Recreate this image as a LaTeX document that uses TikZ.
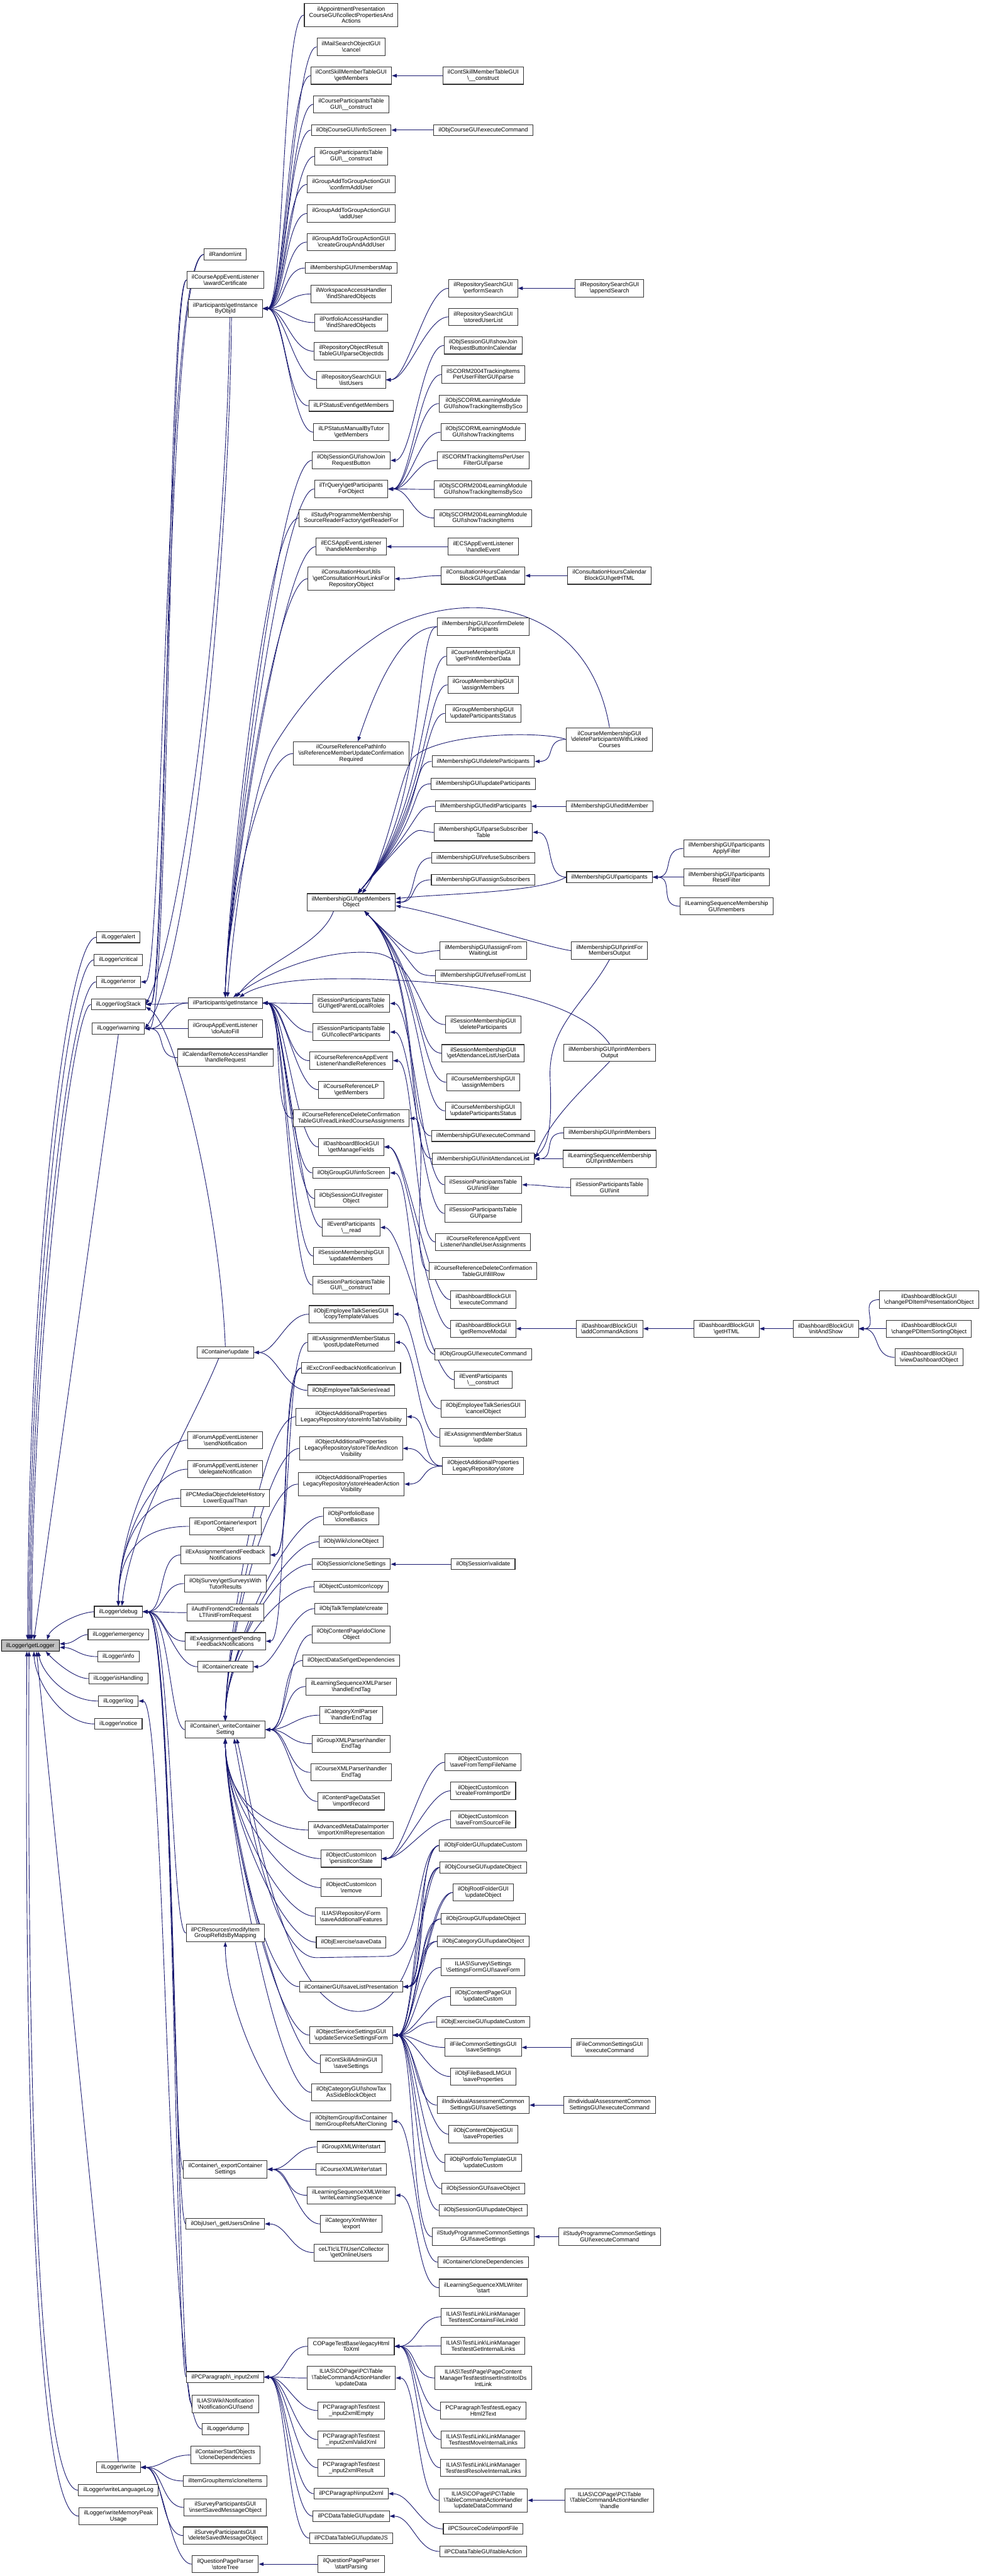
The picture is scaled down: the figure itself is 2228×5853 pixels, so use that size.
\documentclass[tikz,border=0pt]{standalone}
\usepackage{fontspec}
\newfontfamily\dxf{Liberation Sans}
\usetikzlibrary{arrows.meta}
\pgfdeclarelayer{bg}
\pgfsetlayers{bg,main}
\definecolor{navy}{HTML}{191970}
\newcommand\bsl{\textbackslash}
\newcommand\mknode[5]{\node[box,minimum height={#4*14+11}] (#1) at (#2,#3) {#5};}
\newcommand\ed[2]{\foreach \tgt in {#2}{\draw[arr] (#1.west) .. controls +(-50,0) and +(50,0) .. (\tgt.east);}}
\newcommand\edn[2]{\draw[arr] (#1.west) .. controls +(-80,0) and +(0,-150) .. (#2.north);}
\newcommand\eds[2]{\draw[arr] (#1.west) .. controls +(-80,0) and +(0,150) .. (#2.south);}
\newcommand\edv[3]{\draw[arr] (#1.west) .. controls (#3,0 |- #1.west) and (#3,0 |- #2.east) .. (#2.east);}
\newcommand\edg[1]{\draw[arr] (#1.west) .. controls +(-50,0) and (970,1850) .. ([xshift=15]gmo.north);}
\newcommand\edgs[1]{\draw[arr] (#1.west) .. controls +(-60,0) and (960,2200) .. ([xshift=30]gmo.south);}
\begin{document}
\begin{tikzpicture}[x=1pt,y=-1pt,
 box/.style={draw=black!80,line width=1.5pt,fill=white,align=center,inner xsep=11pt,inner ysep=0pt,
   font=\dxf\fontsize{13.2pt}{14pt}\selectfont},
 arr/.style={draw=navy,line width=1.3pt,-{Triangle[length=11pt,width=8pt]}}]
\begin{pgfonlayer}{bg}\fill[white] (0,0) rectangle (2228,5853);\end{pgfonlayer}
\useasboundingbox (0,0) rectangle (2228,5853);
% root
\node[box,fill=black!25,draw=black,minimum height=25] (root) at (69,3739) {ilLogger\bsl getLogger};
% column B
\mknode{lalert}{269}{2129.5}{1}{ilLogger\bsl alert}
\mknode{lcrit}{269}{2181}{1}{ilLogger\bsl critical}
\mknode{lerr}{269}{2231}{1}{ilLogger\bsl error}
\mknode{lstack}{269}{2282}{1}{ilLogger\bsl logStack}
\mknode{lwarn}{269}{2337}{1}{ilLogger\bsl warning}
\mknode{ldebug}{269}{3662}{1}{ilLogger\bsl debug}
\mknode{lemerg}{269}{3714}{1}{ilLogger\bsl emergency}
\mknode{linfo}{269}{3764}{1}{ilLogger\bsl info}
\mknode{lish}{269}{3814}{1}{ilLogger\bsl isHandling}
\mknode{llog}{269}{3865}{1}{ilLogger\bsl log}
\mknode{lnotice}{269}{3917}{1}{ilLogger\bsl notice}
\mknode{lwrite}{269}{5606}{1}{ilLogger\bsl write}
\mknode{lwll}{269}{5658}{1}{ilLogger\bsl writeLanguageLog}
\mknode{lwmp}{269}{5717}{2}{ilLogger\bsl writeMemoryPeak\\Usage}
% column C
\mknode{rint}{512}{578}{1}{ilRandom\bsl int}
\mknode{award}{512}{636}{2}{ilCourseAppEventListener\\\bsl awardCertificate}
\mknode{gibo}{512}{701}{2}{ilParticipants\bsl getInstance\\ByObjId}
\mknode{gi}{512}{2279}{1}{ilParticipants\bsl getInstance}
\mknode{autofill}{512}{2337}{2}{ilGroupAppEventListener\\\bsl doAutoFill}
\mknode{calreq}{512}{2403}{2}{ilCalendarRemoteAccessHandler\\\bsl handleRequest}
\mknode{cupd}{512}{3073}{1}{ilContainer\bsl update}
\mknode{fsend}{512}{3272}{2}{ilForumAppEventListener\\\bsl sendNotification}
\mknode{fdel}{512}{3338}{2}{ilForumAppEventListener\\\bsl delegateNotification}
\mknode{pcmo}{512}{3404}{2}{ilPCMediaObject\bsl deleteHistory\\LowerEqualThan}
\mknode{expc}{512}{3468}{2}{ilExportContainer\bsl export\\Object}
\mknode{sendfb}{512}{3533}{2}{ilExAssignment\bsl sendFeedback\\Notifications}
\mknode{survey}{512}{3598}{2}{ilObjSurvey\bsl getSurveysWith\\TutorResults}
\mknode{authlti}{512}{3664}{2}{ilAuthFrontendCredentials\\LTI\bsl initFromRequest}
\mknode{getpend}{512}{3729}{2}{ilExAssignment\bsl getPending\\FeedbackNotifications}
\mknode{ccreate}{512}{3787}{1}{ilContainer\bsl create}
\mknode{wcs}{512}{3930}{2}{ilContainer\bsl\_writeContainer\\Setting}
\mknode{pcres}{512}{4392}{2}{ilPCResources\bsl modifyItem\\GroupRefIdsByMapping}
\mknode{ecs}{512}{4929}{2}{ilContainer\bsl\_exportContainer\\Settings}
\mknode{guo}{512}{5053}{1}{ilObjUser\bsl\_getUsersOnline}
\mknode{inx}{512}{5401}{1}{ilPCParagraph\bsl\_input2xml}
\mknode{wiki}{512}{5462}{2}{ILIAS\bsl Wiki\bsl Notification\\\bsl NotificationGUI\bsl send}
\mknode{ldump}{512}{5519}{1}{ilLogger\bsl dump}
\mknode{csoclone}{512}{5578}{2}{ilContainerStartObjects\\\bsl cloneDependencies}
\mknode{igiclone}{512}{5637}{1}{ilItemGroupItems\bsl cloneItems}
\mknode{spins}{512}{5697}{2}{ilSurveyParticipantsGUI\\\bsl insertSavedMessageObject}
\mknode{spdel}{512}{5761}{2}{ilSurveyParticipantsGUI\\\bsl deleteSavedMessageObject}
\mknode{qpst}{512}{5826}{2}{ilQuestionPageParser\\\bsl storeTree}
% column D
\mknode{appt}{798}{34}{3}{ilAppointmentPresentation\\CourseGUI\bsl collectPropertiesAnd\\Actions}
\mknode{mailc}{798}{106.5}{2}{ilMailSearchObjectGUI\\\bsl cancel}
\mknode{cstmgm}{798}{172}{2}{ilContSkillMemberTableGUI\\\bsl getMembers}
\mknode{cptc}{798}{237}{2}{ilCourseParticipantsTable\\GUI\bsl\_\_construct}
\mknode{ocinfo}{798}{295.5}{1}{ilObjCourseGUI\bsl infoScreen}
\mknode{gptc}{798}{355}{2}{ilGroupParticipantsTable\\GUI\bsl\_\_construct}
\mknode{gatga}{798}{419}{2}{ilGroupAddToGroupActionGUI\\\bsl confirmAddUser}
\mknode{gatgb}{798}{485}{2}{ilGroupAddToGroupActionGUI\\\bsl addUser}
\mknode{gatgc}{798}{550}{2}{ilGroupAddToGroupActionGUI\\\bsl createGroupAndAddUser}
\mknode{mmap}{798}{609}{1}{ilMembershipGUI\bsl membersMap}
\mknode{wsfind}{798}{668}{2}{ilWorkspaceAccessHandler\\\bsl findSharedObjects}
\mknode{pffind}{798}{733}{2}{ilPortfolioAccessHandler\\\bsl findSharedObjects}
\mknode{rorparse}{798}{798}{2}{ilRepositoryObjectResult\\TableGUI\bsl parseObjectIds}
\mknode{rslist}{798}{863}{2}{ilRepositorySearchGUI\\\bsl listUsers}
\mknode{lpsev}{798}{922}{1}{ilLPStatusEvent\bsl getMembers}
\mknode{lpsman}{798}{982}{2}{ilLPStatusManualByTutor\\\bsl getMembers}
\mknode{sjrb}{798}{1046}{2}{ilObjSessionGUI\bsl showJoin\\RequestButton}
\mknode{trq}{798}{1111}{2}{ilTrQuery\bsl getParticipants\\ForObject}
\mknode{spreader}{798}{1177}{2}{ilStudyProgrammeMembership\\SourceReaderFactory\bsl getReaderFor}
\mknode{ecshm}{798}{1242}{2}{ilECSAppEventListener\\\bsl handleMembership}
\mknode{chu}{798}{1315}{3}{ilConsultationHourUtils\\\bsl getConsultationHourLinksFor\\RepositoryObject}
\mknode{pathinfo}{798}{1712}{3}{ilCourseReferencePathInfo\\\bsl isReferenceMemberUpdateConfirmation\\Required}
\mknode{gmo}{798}{2050}{2}{ilMembershipGUI\bsl getMembers\\Object}
\mknode{gplr}{798}{2280}{2}{ilSessionParticipantsTable\\GUI\bsl getParentLocalRoles}
\mknode{gcp}{798}{2345}{2}{ilSessionParticipantsTable\\GUI\bsl collectParticipants}
\mknode{crhr}{798}{2410}{2}{ilCourseReferenceAppEvent\\Listener\bsl handleReferences}
\mknode{crlp}{798}{2476}{2}{ilCourseReferenceLP\\\bsl getMembers}
\mknode{crdel}{798}{2541}{2}{ilCourseReferenceDeleteConfirmation\\TableGUI\bsl readLinkedCourseAssignments}
\mknode{dbmf}{798}{2606}{2}{ilDashboardBlockGUI\\\bsl getManageFields}
\mknode{ogi}{798}{2665}{1}{ilObjGroupGUI\bsl infoScreen}
\mknode{osreg}{798}{2723}{2}{ilObjSessionGUI\bsl register\\Object}
\mknode{epread}{798}{2789}{2}{ilEventParticipants\\\bsl\_\_read}
\mknode{smum}{798}{2854}{2}{ilSessionMembershipGUI\\\bsl updateMembers}
\mknode{sptc}{798}{2920}{2}{ilSessionParticipantsTable\\GUI\bsl\_\_construct}
\mknode{ctv}{798}{2986}{2}{ilObjEmployeeTalkSeriesGUI\\\bsl copyTemplateValues}
\mknode{pur}{798}{3050}{2}{ilExAssignmentMemberStatus\\\bsl postUpdateReturned}
\mknode{cron}{798}{3108}{1}{ilExcCronFeedbackNotification\bsl run}
\mknode{etsread}{798}{3159}{1}{ilObjEmployeeTalkSeries\bsl read}
\mknode{sitv}{798}{3219}{2}{ilObjectAdditionalProperties\\LegacyRepository\bsl storeInfoTabVisibility}
\mknode{stiv}{798}{3291}{3}{ilObjectAdditionalProperties\\LegacyRepository\bsl storeTitleAndIcon\\Visibility}
\mknode{shav}{798}{3372}{3}{ilObjectAdditionalProperties\\LegacyRepository\bsl storeHeaderAction\\Visibility}
\mknode{pbclone}{798}{3445}{2}{ilObjPortfolioBase\\\bsl cloneBasics}
\mknode{wikiclone}{798}{3503}{1}{ilObjWiki\bsl cloneObject}
\mknode{sesclone}{798}{3554}{1}{ilObjSession\bsl cloneSettings}
\mknode{cicopy}{798}{3605}{1}{ilObjectCustomIcon\bsl copy}
\mknode{ttcreate}{798}{3655}{1}{ilObjTalkTemplate\bsl create}
\mknode{cpclone}{798}{3714}{2}{ilObjContentPage\bsl doClone\\Object}
\mknode{odsdep}{798}{3773}{1}{ilObjectDataSet\bsl getDependencies}
\mknode{lsxp}{798}{3832}{2}{ilLearningSequenceXMLParser\\\bsl handleEndTag}
\mknode{catxp}{798}{3897}{2}{ilCategoryXmlParser\\\bsl handlerEndTag}
\mknode{grpxp}{798}{3962}{2}{ilGroupXMLParser\bsl handler\\EndTag}
\mknode{crsxp}{798}{4027}{2}{ilCourseXMLParser\bsl handler\\EndTag}
\mknode{cpdsimp}{798}{4093}{2}{ilContentPageDataSet\\\bsl importRecord}
\mknode{amdimp}{798}{4158}{2}{ilAdvancedMetaDataImporter\\\bsl importXmlRepresentation}
\mknode{cipersist}{798}{4223}{2}{ilObjectCustomIcon\\\bsl persistIconState}
\mknode{ciremove}{798}{4289}{2}{ilObjectCustomIcon\\\bsl remove}
\mknode{rsaf}{798}{4354}{2}{ILIAS\bsl Repository\bsl Form\\\bsl saveAdditionalFeatures}
\mknode{exsave}{798}{4413}{1}{ilObjExercise\bsl saveData}
\mknode{slp}{798}{4514}{1}{ilContainerGUI\bsl saveListPresentation}
\mknode{ussf}{798}{4624}{2}{ilObjectServiceSettingsGUI\\\bsl updateServiceSettingsForm}
\mknode{csasave}{798}{4689}{2}{ilContSkillAdminGUI\\\bsl saveSettings}
\mknode{ctaxside}{798}{4754}{2}{ilObjCategoryGUI\bsl showTax\\AsSideBlockObject}
\mknode{fixc}{798}{4820}{2}{ilObjItemGroup\bsl fixContainer\\ItemGroupRefsAfterCloning}
\mknode{gxw}{798}{4878}{1}{ilGroupXMLWriter\bsl start}
\mknode{cxw}{798}{4929}{1}{ilCourseXMLWriter\bsl start}
\mknode{lsxw}{798}{4988}{2}{ilLearningSequenceXMLWriter\\\bsl writeLearningSequence}
\mknode{catxw}{798}{5053}{2}{ilCategoryXmlWriter\\\bsl export}
\mknode{lti}{798}{5118}{2}{ceLTIc\bsl LTI\bsl User\bsl Collector\\\bsl getOnlineUsers}
\mknode{copt}{798}{5331}{2}{COPageTestBase\bsl legacyHtml\\ToXml}
\mknode{tcud}{798}{5403}{3}{ILIAS\bsl COPage\bsl PC\bsl Table\\\bsl TableCommandActionHandler\\\bsl updateData}
\mknode{pcte}{798}{5477}{2}{PCParagraphTest\bsl test\\\_input2xmlEmpty}
\mknode{pctv}{798}{5543}{2}{PCParagraphTest\bsl test\\\_input2xmlValidXml}
\mknode{pctr}{798}{5607}{2}{PCParagraphTest\bsl test\\\_input2xmlResult}
\mknode{pcin}{798}{5666}{1}{ilPCParagraph\bsl input2xml}
\mknode{dtu}{798}{5717}{1}{ilPCDataTableGUI\bsl update}
\mknode{dtujs}{798}{5767}{1}{ilPCDataTableGUI\bsl updateJS}
\mknode{qpsp}{798}{5826}{2}{ilQuestionPageParser\\\bsl startParsing}
% column E
\mknode{csmc}{1098}{172}{2}{ilContSkillMemberTableGUI\\\bsl\_\_construct}
\mknode{ocexec}{1098}{295.5}{1}{ilObjCourseGUI\bsl executeCommand}
\mknode{rsperf}{1098}{655}{2}{ilRepositorySearchGUI\\\bsl performSearch}
\mknode{rsstored}{1098}{720}{2}{ilRepositorySearchGUI\\\bsl storedUserList}
\mknode{sjric}{1098}{785}{2}{ilObjSessionGUI\bsl showJoin\\RequestButtonInCalendar}
\mknode{sca}{1098}{851}{2}{ilSCORM2004TrackingItems\\PerUserFilterGUI\bsl parse}
\mknode{scb}{1098}{917}{2}{ilObjSCORMLearningModule\\GUI\bsl showTrackingItemsBySco}
\mknode{scc}{1098}{982}{2}{ilObjSCORMLearningModule\\GUI\bsl showTrackingItems}
\mknode{scd}{1098}{1046}{2}{ilSCORMTrackingItemsPerUser\\FilterGUI\bsl parse}
\mknode{sce}{1098}{1112}{2}{ilObjSCORM2004LearningModule\\GUI\bsl showTrackingItemsBySco}
\mknode{scf}{1098}{1177}{2}{ilObjSCORM2004LearningModule\\GUI\bsl showTrackingItems}
\mknode{ecshe}{1098}{1242}{2}{ilECSAppEventListener\\\bsl handleEvent}
\mknode{chgd}{1098}{1308}{2}{ilConsultationHoursCalendar\\BlockGUI\bsl getData}
\mknode{mcdp}{1098}{1424}{2}{ilMembershipGUI\bsl confirmDelete\\Participants}
\mknode{cmgpmd}{1098}{1491}{2}{ilCourseMembershipGUI\\\bsl getPrintMemberData}
\mknode{gmam}{1098}{1556}{2}{ilGroupMembershipGUI\\\bsl assignMembers}
\mknode{gmups}{1098}{1621}{2}{ilGroupMembershipGUI\\\bsl updateParticipantsStatus}
\mknode{mdp}{1098}{1730}{1}{ilMembershipGUI\bsl deleteParticipants}
\mknode{mup}{1098}{1781}{1}{ilMembershipGUI\bsl updateParticipants}
\mknode{mep}{1098}{1832}{1}{ilMembershipGUI\bsl editParticipants}
\mknode{mpst}{1098}{1891}{2}{ilMembershipGUI\bsl parseSubscriber\\Table}
\mknode{mrs}{1098}{1949}{1}{ilMembershipGUI\bsl refuseSubscribers}
\mknode{mas}{1098}{1999}{1}{ilMembershipGUI\bsl assignSubscribers}
\mknode{mafwl}{1098}{2160}{2}{ilMembershipGUI\bsl assignFrom\\WaitingList}
\mknode{mrfl}{1098}{2217}{1}{ilMembershipGUI\bsl refuseFromList}
\mknode{smdp}{1098}{2328}{2}{ilSessionMembershipGUI\\\bsl deleteParticipants}
\mknode{smgal}{1098}{2393}{2}{ilSessionMembershipGUI\\\bsl getAttendanceListUserData}
\mknode{cmam}{1098}{2459}{2}{ilCourseMembershipGUI\\\bsl assignMembers}
\mknode{cmups}{1098}{2524}{2}{ilCourseMembershipGUI\\\bsl updateParticipantsStatus}
\mknode{mexec}{1098}{2581}{1}{ilMembershipGUI\bsl executeCommand}
\mknode{mial}{1098}{2633}{1}{ilMembershipGUI\bsl initAttendanceList}
\mknode{sptif}{1098}{2692}{2}{ilSessionParticipantsTable\\GUI\bsl initFilter}
\mknode{sptp}{1098}{2757}{2}{ilSessionParticipantsTable\\GUI\bsl parse}
\mknode{crhua}{1098}{2822}{2}{ilCourseReferenceAppEvent\\Listener\bsl handleUserAssignments}
\mknode{crfill}{1098}{2888}{2}{ilCourseReferenceDeleteConfirmation\\TableGUI\bsl fillRow}
\mknode{dbexec}{1098}{2953}{2}{ilDashboardBlockGUI\\\bsl executeCommand}
\mknode{dbrm}{1098}{3019}{2}{ilDashboardBlockGUI\\\bsl getRemoveModal}
\mknode{ogexec}{1098}{3077}{1}{ilObjGroupGUI\bsl executeCommand}
\mknode{epcon}{1098}{3135}{2}{ilEventParticipants\\\bsl\_\_construct}
\mknode{etcancel}{1098}{3201}{2}{ilObjEmployeeTalkSeriesGUI\\\bsl cancelObject}
\mknode{emsupd}{1098}{3266}{2}{ilExAssignmentMemberStatus\\\bsl update}
\mknode{oaprs}{1098}{3331}{2}{ilObjectAdditionalProperties\\LegacyRepository\bsl store}
\mknode{osval}{1098}{3554}{1}{ilObjSession\bsl validate}
\mknode{cisft}{1098}{4004}{2}{ilObjectCustomIcon\\\bsl saveFromTempFileName}
\mknode{cicfid}{1098}{4069}{2}{ilObjectCustomIcon\\\bsl createFromImportDir}
\mknode{cisfsf}{1098}{4134}{2}{ilObjectCustomIcon\\\bsl saveFromSourceFile}
\mknode{ofuc}{1098}{4193}{1}{ilObjFolderGUI\bsl updateCustom}
\mknode{ocuo}{1098}{4243}{1}{ilObjCourseGUI\bsl updateObject}
\mknode{orfuo}{1098}{4300}{2}{ilObjRootFolderGUI\\\bsl updateObject}
\mknode{oguo}{1098}{4360}{1}{ilObjGroupGUI\bsl updateObject}
\mknode{ocatuo}{1098}{4411}{1}{ilObjCategoryGUI\bsl updateObject}
\mknode{ssave}{1098}{4470}{2}{ILIAS\bsl Survey\bsl Settings\\\bsl SettingsFormGUI\bsl saveForm}
\mknode{ocpuc}{1098}{4536}{2}{ilObjContentPageGUI\\\bsl updateCustom}
\mknode{oexuc}{1098}{4594}{1}{ilObjExerciseGUI\bsl updateCustom}
\mknode{fcss}{1098}{4652}{2}{ilFileCommonSettingsGUI\\\bsl saveSettings}
\mknode{ofblm}{1098}{4718}{2}{ilObjFileBasedLMGUI\\\bsl saveProperties}
\mknode{iass}{1098}{4783}{2}{ilIndividualAssessmentCommon\\SettingsGUI\bsl saveSettings}
\mknode{ocosp}{1098}{4849}{2}{ilObjContentObjectGUI\\\bsl saveProperties}
\mknode{optuc}{1098}{4914}{2}{ilObjPortfolioTemplateGUI\\\bsl updateCustom}
\mknode{ossave}{1098}{4973}{1}{ilObjSessionGUI\bsl saveObject}
\mknode{osupd}{1098}{5022}{1}{ilObjSessionGUI\bsl updateObject}
\mknode{spss}{1098}{5082}{2}{ilStudyProgrammeCommonSettings\\GUI\bsl saveSettings}
\mknode{ccd}{1098}{5140}{1}{ilContainer\bsl cloneDependencies}
\mknode{lsxws}{1098}{5198}{2}{ilLearningSequenceXMLWriter\\\bsl start}
\mknode{lta}{1098}{5264}{2}{ILIAS\bsl Test\bsl Link\bsl LinkManager\\Test\bsl testContainsFileLinkId}
\mknode{ltb}{1098}{5330}{2}{ILIAS\bsl Test\bsl Link\bsl LinkManager\\Test\bsl testGetInternalLinks}
\mknode{ltc}{1098}{5403}{3}{ILIAS\bsl Test\bsl Page\bsl PageContent\\ManagerTest\bsl testInsertInstIntoIDs\\IntLink}
\mknode{ltd}{1098}{5477}{2}{PCParagraphTest\bsl testLegacy\\Html2Text}
\mknode{lte}{1098}{5543}{2}{ILIAS\bsl Test\bsl Link\bsl LinkManager\\Test\bsl testMoveInternalLinks}
\mknode{ltf}{1098}{5607}{2}{ILIAS\bsl Test\bsl Link\bsl LinkManager\\Test\bsl testResolveInternalLinks}
\mknode{tcudc}{1098}{5681}{3}{ILIAS\bsl COPage\bsl PC\bsl Table\\\bsl TableCommandActionHandler\\\bsl updateDataCommand}
\mknode{pcsimp}{1098}{5746}{1}{ilPCSourceCode\bsl importFile}
\mknode{dtta}{1098}{5797}{1}{ilPCDataTableGUI\bsl tableAction}
% column F
\mknode{rsappend}{1385}{655}{2}{ilRepositorySearchGUI\\\bsl appendSearch}
\mknode{chgh}{1385}{1308}{2}{ilConsultationHoursCalendar\\BlockGUI\bsl getHTML}
\mknode{dpl}{1385}{1680}{3}{ilCourseMembershipGUI\\\bsl deleteParticipantsWithLinked\\Courses}
\mknode{mem}{1385}{1832}{1}{ilMembershipGUI\bsl editMember}
\mknode{mpart}{1385}{1993}{1}{ilMembershipGUI\bsl participants}
\mknode{pfmo}{1385}{2160}{2}{ilMembershipGUI\bsl printFor\\MembersOutput}
\mknode{pmo}{1385}{2392}{2}{ilMembershipGUI\bsl printMembers\\Output}
\mknode{pm}{1385}{2574}{1}{ilMembershipGUI\bsl printMembers}
\mknode{lspm}{1385}{2633}{2}{ilLearningSequenceMembership\\GUI\bsl printMembers}
\mknode{spti}{1385}{2698}{2}{ilSessionParticipantsTable\\GUI\bsl init}
\mknode{dbaca}{1385}{3019}{2}{ilDashboardBlockGUI\\\bsl addCommandActions}
\mknode{fcsexec}{1385}{4652}{2}{ilFileCommonSettingsGUI\\\bsl executeCommand}
\mknode{iaexec}{1385}{4783}{2}{ilIndividualAssessmentCommon\\SettingsGUI\bsl executeCommand}
\mknode{spexec}{1385}{5082}{2}{ilStudyProgrammeCommonSettings\\GUI\bsl executeCommand}
\mknode{tcah}{1385}{5681}{3}{ILIAS\bsl COPage\bsl PC\bsl Table\\\bsl TableCommandActionHandler\\\bsl handle}
% columns G-I
\mknode{mpaf}{1651}{1928}{2}{ilMembershipGUI\bsl participants\\ApplyFilter}
\mknode{mprf}{1651}{1993}{2}{ilMembershipGUI\bsl participants\\ResetFilter}
\mknode{lsm}{1651}{2059}{2}{ilLearningSequenceMembership\\GUI\bsl members}
\mknode{dbhtml}{1651}{3019}{2}{ilDashboardBlockGUI\\\bsl getHTML}
\mknode{dbias}{1876.5}{3019}{2}{ilDashboardBlockGUI\\\bsl initAndShow}
\mknode{dbpa}{2111}{2953}{2}{ilDashboardBlockGUI\\\bsl changePDItemPresentationObject}
\mknode{dbpb}{2111}{3019}{2}{ilDashboardBlockGUI\\\bsl changePDItemSortingObject}
\mknode{dbvd}{2111}{3084}{2}{ilDashboardBlockGUI\\\bsl viewDashboardObject}

\begin{pgfonlayer}{bg}
% ---- into root
\draw[arr] (lalert.west) .. controls (150,2129.5) and (63,2900) .. ([xshift=-6]root.north);
\draw[arr] (lcrit.west) .. controls (155,2181) and (66,2950) .. ([xshift=-3]root.north);
\draw[arr] (lerr.west) .. controls (160,2231) and (69,3000) .. (root.north);
\draw[arr] (lstack.west) .. controls (165,2282) and (72,3050) .. ([xshift=3]root.north);
\draw[arr] (lwarn.south) -- ([xshift=8]root.north);
\draw[arr] (ldebug.west) .. controls (170,3665) and (115,3700) .. ([xshift=38]root.north);
\draw[arr] (lemerg.west) .. controls (180,3714) and (170,3734) .. ([yshift=4]root.east);
\draw[arr] (linfo.west) .. controls (180,3764) and (170,3744) .. ([yshift=-4]root.east);
\draw[arr] (lish.west) .. controls (170,3814) and (125,3775) .. ([xshift=35]root.south);
\draw[arr] (llog.west) .. controls (150,3865) and (95,3800) .. ([xshift=18]root.south);
\draw[arr] (lnotice.west) .. controls (140,3917) and (80,3820) .. ([xshift=8]root.south);
\draw[arr] (lwrite.north) -- ([xshift=14]root.south);
\draw[arr] (lwll.west) .. controls (75,5658) and (62,4500) .. ([xshift=-3]root.south);
\draw[arr] (lwmp.west) .. controls (68,5717) and (56,4500) .. ([xshift=-8]root.south);
% ---- column C -> B
\edv{rint}{lerr}{372}
\edv{rint}{lstack}{376}
\edv{award}{lstack}{380}
\edv{award}{lwarn}{384}
\draw[arr] ([xshift=10]gibo.south) .. controls (515,1300) and (420,2100) .. (lstack.east);
\draw[arr] ([xshift=14]gibo.south) .. controls (520,1300) and (430,2200) .. (lwarn.east);
\ed{gi}{lstack,lwarn}
\ed{autofill}{lwarn}
\ed{calreq}{lwarn}
\draw[arr] (cupd.north) .. controls (500,2750) and (400,2330) .. ([yshift=-6]lstack.east);
\draw[arr] ([xshift=-15]cupd.south) .. controls (430,3250) and (300,3450) .. ([xshift=8]ldebug.north);
\edn{fsend}{ldebug}
\edn{fdel}{ldebug}
\edn{pcmo}{ldebug}
\edn{expc}{ldebug}
\ed{sendfb}{ldebug}
\ed{survey}{ldebug}
\ed{authlti}{ldebug}
\ed{getpend}{ldebug}
\ed{ccreate}{ldebug}
\edv{wcs}{ldebug}{386}
\edv{pcres}{ldebug}{389}
\edv{ecs}{ldebug}{392}
\edv{guo}{ldebug}{395}
\edv{inx}{ldebug}{398}
\edv{wiki}{ldebug}{401}
\edv{ldump}{llog}{378}
\ed{csoclone}{lwrite}
\ed{igiclone}{lwrite}
\ed{spins}{lwrite}
\ed{spdel}{lwrite}
\ed{qpst}{lwrite}
% ---- column D -> C
\ed{appt}{gibo}
\ed{mailc}{gibo}
\ed{cstmgm}{gibo}
\ed{cptc}{gibo}
\ed{ocinfo}{gibo}
\ed{gptc}{gibo}
\ed{gatga}{gibo}
\ed{gatgb}{gibo}
\ed{gatgc}{gibo}
\ed{mmap}{gibo}
\ed{wsfind}{gibo}
\ed{pffind}{gibo}
\ed{rorparse}{gibo}
\ed{rslist}{gibo}
\ed{lpsev}{gibo}
\ed{lpsman}{gibo}
\edn{sjrb}{gi}
\edn{trq}{gi}
\edn{spreader}{gi}
\edn{ecshm}{gi}
\edn{chu}{gi}
\edn{pathinfo}{gi}
\draw[arr] ([xshift=-40]gmo.south) .. controls +(-30,80) and +(60,-80) .. ([xshift=25]gi.north);
\ed{gplr}{gi}
\ed{gcp}{gi}
\ed{crhr}{gi}
\ed{crlp}{gi}
\ed{crdel}{gi}
\ed{dbmf}{gi}
\ed{ogi}{gi}
\ed{osreg}{gi}
\ed{epread}{gi}
\ed{smum}{gi}
\ed{sptc}{gi}
\ed{ctv}{cupd}
\ed{etsread}{cupd}
\ed{pur}{sendfb}
\ed{cron}{sendfb,getpend}
\edn{sitv}{wcs}
\edn{stiv}{wcs}
\edn{shav}{wcs}
\edn{pbclone}{wcs}
\edn{wikiclone}{wcs}
\edn{sesclone}{wcs}
\edn{cicopy}{wcs}
\ed{cpclone}{wcs}
\ed{odsdep}{wcs}
\ed{lsxp}{wcs}
\ed{catxp}{wcs}
\ed{grpxp}{wcs}
\ed{crsxp}{wcs}
\ed{cpdsimp}{wcs}
\eds{amdimp}{wcs}
\eds{cipersist}{wcs}
\eds{ciremove}{wcs}
\eds{rsaf}{wcs}
\eds{exsave}{wcs}
\eds{slp}{wcs}
\eds{ussf}{wcs}
\eds{csasave}{wcs}
\eds{ctaxside}{wcs}
\ed{ttcreate}{ccreate}
\eds{fixc}{pcres}
\ed{gxw}{ecs}
\ed{cxw}{ecs}
\ed{lsxw}{ecs}
\ed{catxw}{ecs}
\ed{lti}{guo}
\ed{copt}{inx}
\ed{tcud}{inx}
\ed{pcte}{inx}
\ed{pctv}{inx}
\ed{pctr}{inx}
\ed{pcin}{inx}
\ed{dtu}{inx}
\ed{dtujs}{inx}
\ed{qpsp}{qpst}
% ---- column E -> D
\ed{csmc}{cstmgm}
\ed{ocexec}{ocinfo}
\ed{rsperf}{rslist}
\ed{rsstored}{rslist}
\ed{sjric}{sjrb}
\ed{sca}{trq}
\ed{scb}{trq}
\ed{scc}{trq}
\ed{scd}{trq}
\ed{sce}{trq}
\ed{scf}{trq}
\ed{ecshe}{ecshm}
\ed{chgd}{chu}
\draw[arr] (mcdp.west) .. controls +(-80,0) and +(40,-120) .. ([xshift=15]pathinfo.north);
\edg{mcdp}
\edg{cmgpmd}
\edg{gmam}
\edg{gmups}
\edg{mdp}
\edg{mup}
\edg{mep}
\edg{mpst}
\ed{mrs}{gmo}
\ed{mas}{gmo}
\edgs{mafwl}
\edgs{mrfl}
\edgs{smgal}
\edgs{cmam}
\edgs{cmups}
\edgs{mexec}
\edgs{mial}
\draw[arr] (smdp.west) .. controls (950,2328) and (950,2175) .. (850,2165) .. controls (750,2155) and (620,2200) .. ([xshift=18]gi.north);
\ed{sptif}{gplr}
\ed{sptp}{gcp}
\ed{crhua}{crhr}
\ed{crfill}{crdel}
\ed{dbexec}{dbmf}
\ed{dbrm}{dbmf}
\ed{ogexec}{ogi}
\ed{epcon}{epread}
\ed{etcancel}{ctv}
\ed{emsupd}{pur}
\ed{oaprs}{sitv,stiv,shav}
\ed{osval}{sesclone}
\ed{cisft}{cipersist}
\ed{cicfid}{cipersist}
\ed{cisfsf}{cipersist}
\ed{ofuc}{slp,ussf}
\ed{ocuo}{slp,ussf}
\ed{orfuo}{slp,ussf}
\ed{oguo}{slp,ussf}
\ed{ocatuo}{slp,ussf}
\ed{ssave}{ussf}
\ed{ocpuc}{ussf}
\ed{oexuc}{ussf}
\ed{fcss}{ussf}
\ed{ofblm}{ussf}
\ed{iass}{ussf}
\ed{ocosp}{ussf}
\ed{optuc}{ussf}
\ed{ossave}{ussf}
\ed{osupd}{ussf}
\ed{spss}{ussf}
\draw[arr] (ofuc.west) .. controls (945,4200) and (960,4443) .. (880,4445) -- (720,4448) .. controls (620,4450) and (560,4100) .. ([xshift=20]wcs.south);
\draw[arr] (ocuo.west) .. controls (960,4250) and (960,4560) .. (820,4570) .. controls (640,4580) and (575,4100) .. ([xshift=26]wcs.south);
\ed{ccd}{fixc}
\ed{lsxws}{lsxw}
\ed{lta}{copt}
\ed{ltb}{copt}
\ed{ltc}{copt}
\ed{ltd}{copt}
\ed{lte}{copt}
\ed{ltf}{copt}
\ed{tcudc}{tcud}
\ed{pcsimp}{pcin}
\ed{dtta}{dtu}
% ---- column F -> E and longer
\ed{rsappend}{rsperf}
\ed{chgh}{chgd}
\ed{dpl}{mdp}
\draw[arr] (dpl.west) .. controls (1230,1660) and (1000,1665) .. (940,1720) .. controls (912,1746) and (880,1950) .. ([xshift=25]gmo.north);
\draw[arr] (dpl.north) .. controls (1330,1330) and (1000,1340) .. (850,1450) .. controls (750,1520) and (680,1600) .. (620,1700) .. controls (570,1790) and (530,2100) .. ([xshift=5]gi.north);
\ed{mem}{mep}
\ed{mpart}{mpst}
\draw[arr] (mpart.west) .. controls (1220,2030) and (1000,2030) .. ([yshift=8]gmo.east);
\draw[arr] (pfmo.west) .. controls (1230,2150) and (1000,2075) .. ([yshift=-8]gmo.east);
\draw[arr] (pfmo.south) .. controls (1330,2280) and (1245,2330) .. (1250,2450) .. controls (1254,2540) and (1250,2600) .. ([yshift=4]mial.east);
\draw[arr] (pmo.south) .. controls (1330,2470) and (1250,2540) .. (mial.east);
\draw[arr] (pmo.north) .. controls (1300,2250) and (1000,2230) .. (850,2225) .. controls (700,2220) and (600,2230) .. ([xshift=32]gi.north);
\ed{pm}{mial}
\ed{lspm}{mial}
\ed{spti}{sptif}
\ed{dbaca}{dbrm}
\ed{fcsexec}{fcss}
\ed{iaexec}{iass}
\ed{spexec}{spss}
\ed{tcah}{tcudc}
% ---- columns G-I
\ed{mpaf}{mpart}
\ed{mprf}{mpart}
\ed{lsm}{mpart}
\ed{dbhtml}{dbaca}
\ed{dbias}{dbhtml}
\ed{dbpa}{dbias}
\ed{dbpb}{dbias}
\ed{dbvd}{dbias}
\end{pgfonlayer}
\end{tikzpicture}
\end{document}
